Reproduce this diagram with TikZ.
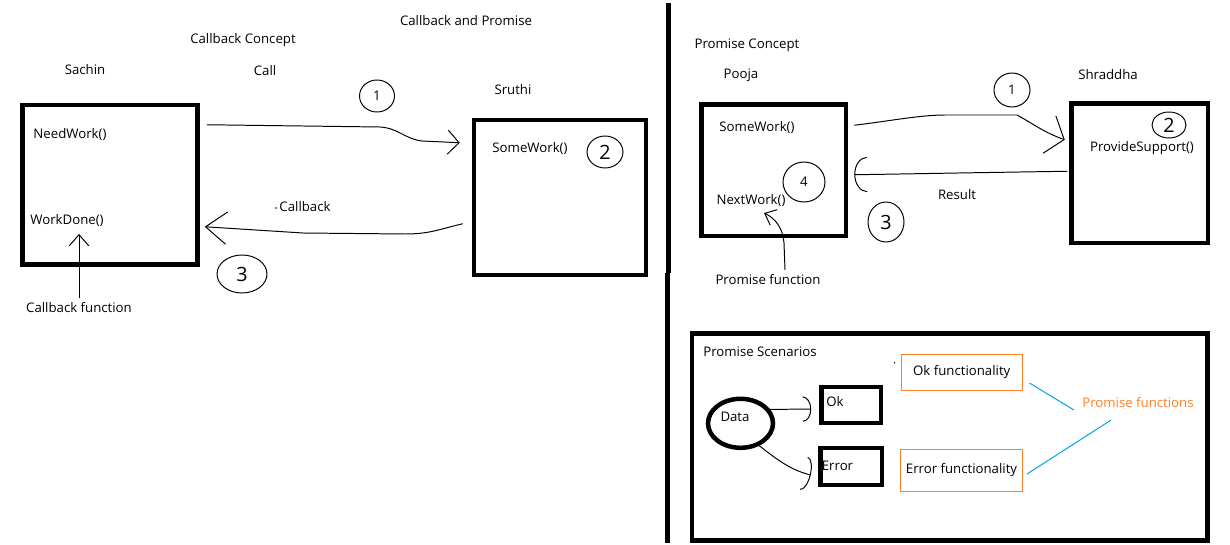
\documentclass[tikz,border=0pt]{standalone}
\usepackage{fontspec}
\setmainfont{Open Sans}
\usetikzlibrary{arrows.meta,fit,shapes.geometric}
\definecolor{paintorange}{RGB}{255,127,39}
\definecolor{paintblue}{RGB}{0,162,232}
\newcommand\pxu{0.025cm}

\begin{document}
\begin{tikzpicture}[x=0.025cm,y=-0.025cm,
    every node/.style={font=\fontsize{9.4}{11}\selectfont},
    thickbox/.style={draw,line width=3.2pt,inner sep=0pt},
    orangebox/.style={draw=paintorange,line width=0.7pt},
    ring/.style 2 args={draw,ellipse,line width=0.7pt,inner sep=0pt,
        minimum width=#1*\pxu,minimum height=#2*\pxu},
    bigdigit/.style={font=\fontsize{14}{14}\selectfont},
    hand/.style={line width=0.7pt}]
    \useasboundingbox (0,0) rectangle (1230,545);
    \draw[line width=3.2pt] (668.5,3) -- (668.5,273) (667.5,273) -- (667.5,543);

    \node (title) at (466,21) {Callback and Promise};
    \node (cbconcept) at (243,40) {Callback Concept};
    \node (sachinname) at (85,70) {Sachin};
    \node (calltext) at (265,71) {Call};
    \node (sruthiname) at (513,90) {Sruthi};
    \node[thickbox,fit={(22.5,105) (197.5,264.5)}] (sachin) {};
    \node[thickbox,fit={(474,120) (646,275)}] (sruthi) {};
    \node (needwork) at (70,135) {NeedWork()};
    \node (workdone) at (67,221) {WorkDone()};
    \node (somework) at (530,149) {SomeWork()};
    \node[ring={35}{32}] (c1) at (377,96) {1};
    \node[ring={36}{32},bigdigit] (c2) at (605,152) {2};
    \node[ring={50}{38},bigdigit] (c3) at (242,274) {3};
    \draw[hand,-{Straight Barb[length=8pt,width=17pt]}] ([shift={(7,22)}]sachin.north east) -- (380,127)
        .. controls (398,128) and (405,139) .. (422,141) -- ([shift={(-12,25)}]sruthi.north west);
    \node (cblabel) at (305,207) {Callback};
    \fill (276,208) circle (0.8);
    \draw[hand,-{Straight Barb[length=15pt,width=23pt]}] ([shift={(-9,106)}]sruthi.north west)
        .. controls (440,229) and (430,234) .. (405,234) -- (303,233) -- ([shift={(5,124)}]sachin.north east);
    \node (cbfunc) at (79,308) {Callback function};
    \draw[hand,-{Straight Barb[length=8pt,width=14pt]}] (cbfunc.north) -- ++(0,-64);

    \node (prconcept) at (747,45) {Promise Concept};
    \node (poojaname) at (741,75) {Pooja};
    \node (shraddhaname) at (1108,75) {Shraddha};
    \node[thickbox,fit={(701.5,104.5) (846,236)}] (pooja) {};
    \node[thickbox,fit={(1071.5,103.5) (1208,243)}] (shraddha) {};
    \node (somework2) at (757,128) {SomeWork()};
    \node (nextwork) at (751,201) {NextWork()};
    \node (provide) at (1142,148) {ProvideSupport()};
    \node[ring={36}{34}] (d1) at (1012,90) {1};
    \node[ring={34}{26},bigdigit] (d2) at (1169,125) {2};
    \node[ring={36}{40},bigdigit] (d3) at (886,222) {3};
    \node[ring={42}{40}] (d4) at (804,182) {4};
    \draw[hand,-{Straight Barb[length=11pt,width=28pt]}] ([shift={(6,23)}]pooja.north east)
        .. controls (890,121) and (920,115) .. (945,115) -- (1017,115)
        .. controls (1030,122) and (1045,133) .. ([shift={(-4.5,38.5)}]shraddha.north west);
    \node (result) at (957,195) {Result};
    \draw[hand,-{Arc Barb[length=9pt,width=25pt]}] ([shift={(-2,70)}]shraddha.north west) -- (958,173)
        .. controls (900,174) .. ([shift={(6,72.5)}]pooja.north east);
    \node (prfunc) at (768,280) {Promise function};
    \draw[hand,-{Straight Barb[length=7pt,width=12pt]}] ([shift={(17,0)}]prfunc.north) -- (784,243)
        .. controls (783,228) and (775,218) .. ([shift={(13,1)}]nextwork.south);

    \node[thickbox,fit={(692,333.5) (1207.5,540.5)}] (scenarios) {};
    \node (scentitle) at (760,352) {Promise Scenarios};
    \node[thickbox,fit={(821.5,387) (881,423)}] (okbox) {};
    \node[thickbox,fit={(820.5,448) (882,485)}] (errbox) {};
    \node at (835,402) (oktext) {Ok};
    \node at (837.5,466) (errtext) {Error};
    \node[thickbox,ellipse,minimum width=65*\pxu,minimum height=49*\pxu] (data) at (740.5,423.3) {};
    \node (datatext) at (735,417) {Data};
    \node[orangebox,minimum width=120.5*\pxu,minimum height=36*\pxu] (okfn) at (961.75,372) {Ok functionality};
    \node[orangebox,minimum width=122*\pxu,minimum height=42*\pxu] (errfn) at (961.5,470) {Error functionality};
    \node[text=paintorange] (prfuncs) at (1138,403) {Promise functions};
    \fill (894.6,362.7) circle (0.8);
    \draw[hand,-{Arc Barb[length=6pt,width=18pt]}] (data.25) -- ([shift={(-8,4)}]okbox.west);
    \draw[hand,-{Arc Barb[length=5pt,width=24pt]}] (data.-50)
        .. controls (775,458) and (790,470) .. ([shift={(-7.5,8.5)}]errbox.west);
    \draw[paintblue,line width=0.7pt] ([shift={(7,11)}]okfn.east) -- ([shift={(-3.5,7)}]prfuncs.west);
    \draw[paintblue,line width=0.7pt] ([shift={(-27,7)}]prfuncs.south) -- ([shift={(4,4)}]errfn.east);
\end{tikzpicture}
\end{document}
